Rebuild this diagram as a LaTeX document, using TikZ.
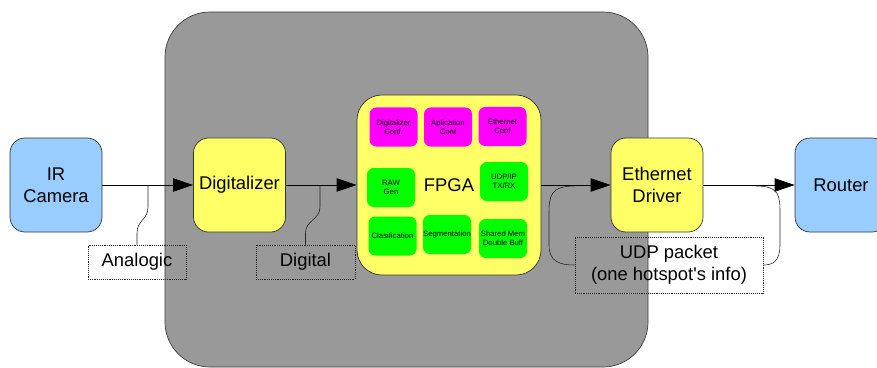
\documentclass[tikz,border=0pt]{standalone}
\usepackage{fontspec}
\setmainfont{Liberation Sans}
\usetikzlibrary{arrows.meta}

\definecolor{boardgray}{HTML}{999999}
\definecolor{camblue}{HTML}{99CCFF}
\definecolor{blockyellow}{HTML}{FFFF66}
\definecolor{confpink}{HTML}{FF00FF}
\definecolor{modgreen}{HTML}{00FF00}

\begin{document}
\begin{tikzpicture}[x=0.03cm, y=-0.03cm,
    blockbox/.style={draw=black!80, line width=0.6pt, rounded corners=0.45cm,
      minimum width=2.76cm, minimum height=2.82cm, inner sep=0pt, align=center,
      font=\fontsize{15.7}{18.7}\selectfont},
    modbox/.style={rounded corners=0.2cm, minimum width=1.44cm, minimum height=1.17cm,
      inner sep=0pt, align=center, font=\fontsize{6.6}{7.6}\selectfont},
    notebox/.style={draw=black!85, densely dotted, line width=0.6pt, inner sep=0pt,
      align=center, font=\fontsize{15.7}{18.7}\selectfont},
    signal/.style={line width=0.6pt, -{Triangle[length=0.6cm, width=0.4cm]}},
    callout/.style={line width=0.5pt, black!85}]

  \useasboundingbox (0,0) rectangle (877,367);

  % Board
  \node[draw=black!75, line width=0.6pt, fill=boardgray, rounded corners=1.35cm,
    minimum width=14.49cm, minimum height=10.65cm] (board) at (406.5,189.5) {};

  % Main blocks
  \node[blockbox, fill=camblue] (cam) at (56,185) {IR\\Camera};
  \node[blockbox, fill=blockyellow] (dig) at (239.5,185) {Digitalizer};
  \node[blockbox, fill=blockyellow, rounded corners=0.75cm,
    minimum width=5.52cm, minimum height=5.4cm] (fpga) at (449,185) {FPGA};
  \node[blockbox, fill=blockyellow] (eth) at (657,185) {Ethernet\\Driver};
  \node[blockbox, fill=camblue] (router) at (841,185) {Router};

  % Configuration modules inside the FPGA
  \foreach \name/\pos/\txt in {dconf/{393.5,127}/{Digitalizer\\Conf.},
                               aconf/{448,127}/{Aplication\\Conf},
                               econf/{502.5,126.5}/{Ethernet\\Conf}} {
    \node[modbox, fill=confpink] (\name) at (\pos) {\txt};
  }

  % Processing modules inside the FPGA
  \foreach \name/\pos/\txt in {raw/{391,187.5}/{RAW\\Gen},
                               udpip/{504,181.5}/{UDP/IP\\TX/RX},
                               clas/{392.5,236}/{Clasification},
                               seg/{447,234.5}/{Segmentation},
                               shm/{503,238.5}/{Shared Mem\\Double Buff}} {
    \node[modbox, fill=modgreen] (\name) at (\pos) {\txt};
  }

  % Signal path
  \draw[signal] (cam) -- (dig);
  \draw[signal] (dig) -- (fpga);
  \draw[signal] (fpga) -- (eth);
  \draw[signal] (eth) -- (router);

  % Notes
  \node[notebox, minimum width=2.94cm, minimum height=1.02cm] (ana) at (137,262) {Analogic};
  \node[notebox, minimum width=2.97cm, minimum height=1.02cm] (digi) at (305.5,262) {Digital};
  \node[notebox, minimum width=5.64cm, minimum height=1.68cm] (udp) at (669,265)
    {UDP packet\\(one hotspot\textquotesingle s info)};

  \coordinate (anatap) at (148,186);
  \coordinate (digtap) at (320,186);
  \coordinate (udptapl) at (575,186);
  \coordinate (udptapr) at (756,186);

  \draw[callout] (anatap) -- (148,207) .. controls (148,220) and (137,220) .. (137,233) -- (ana.north);
  \draw[callout] (digtap) -- (320,207) .. controls (320,220) and (305.5,220) .. (305.5,233) -- (digi.north);
  \draw[callout] (udptapl) .. controls (550,186) and (549,196) .. (549,215) -- (549,245)
    .. controls (549,262) and (560,265) .. (udp.west);
  \draw[callout] (udptapr) .. controls (780,186) and (780,196) .. (780,215) -- (780,245)
    .. controls (780,262) and (772,265) .. (udp.east);
\end{tikzpicture}
\end{document}
